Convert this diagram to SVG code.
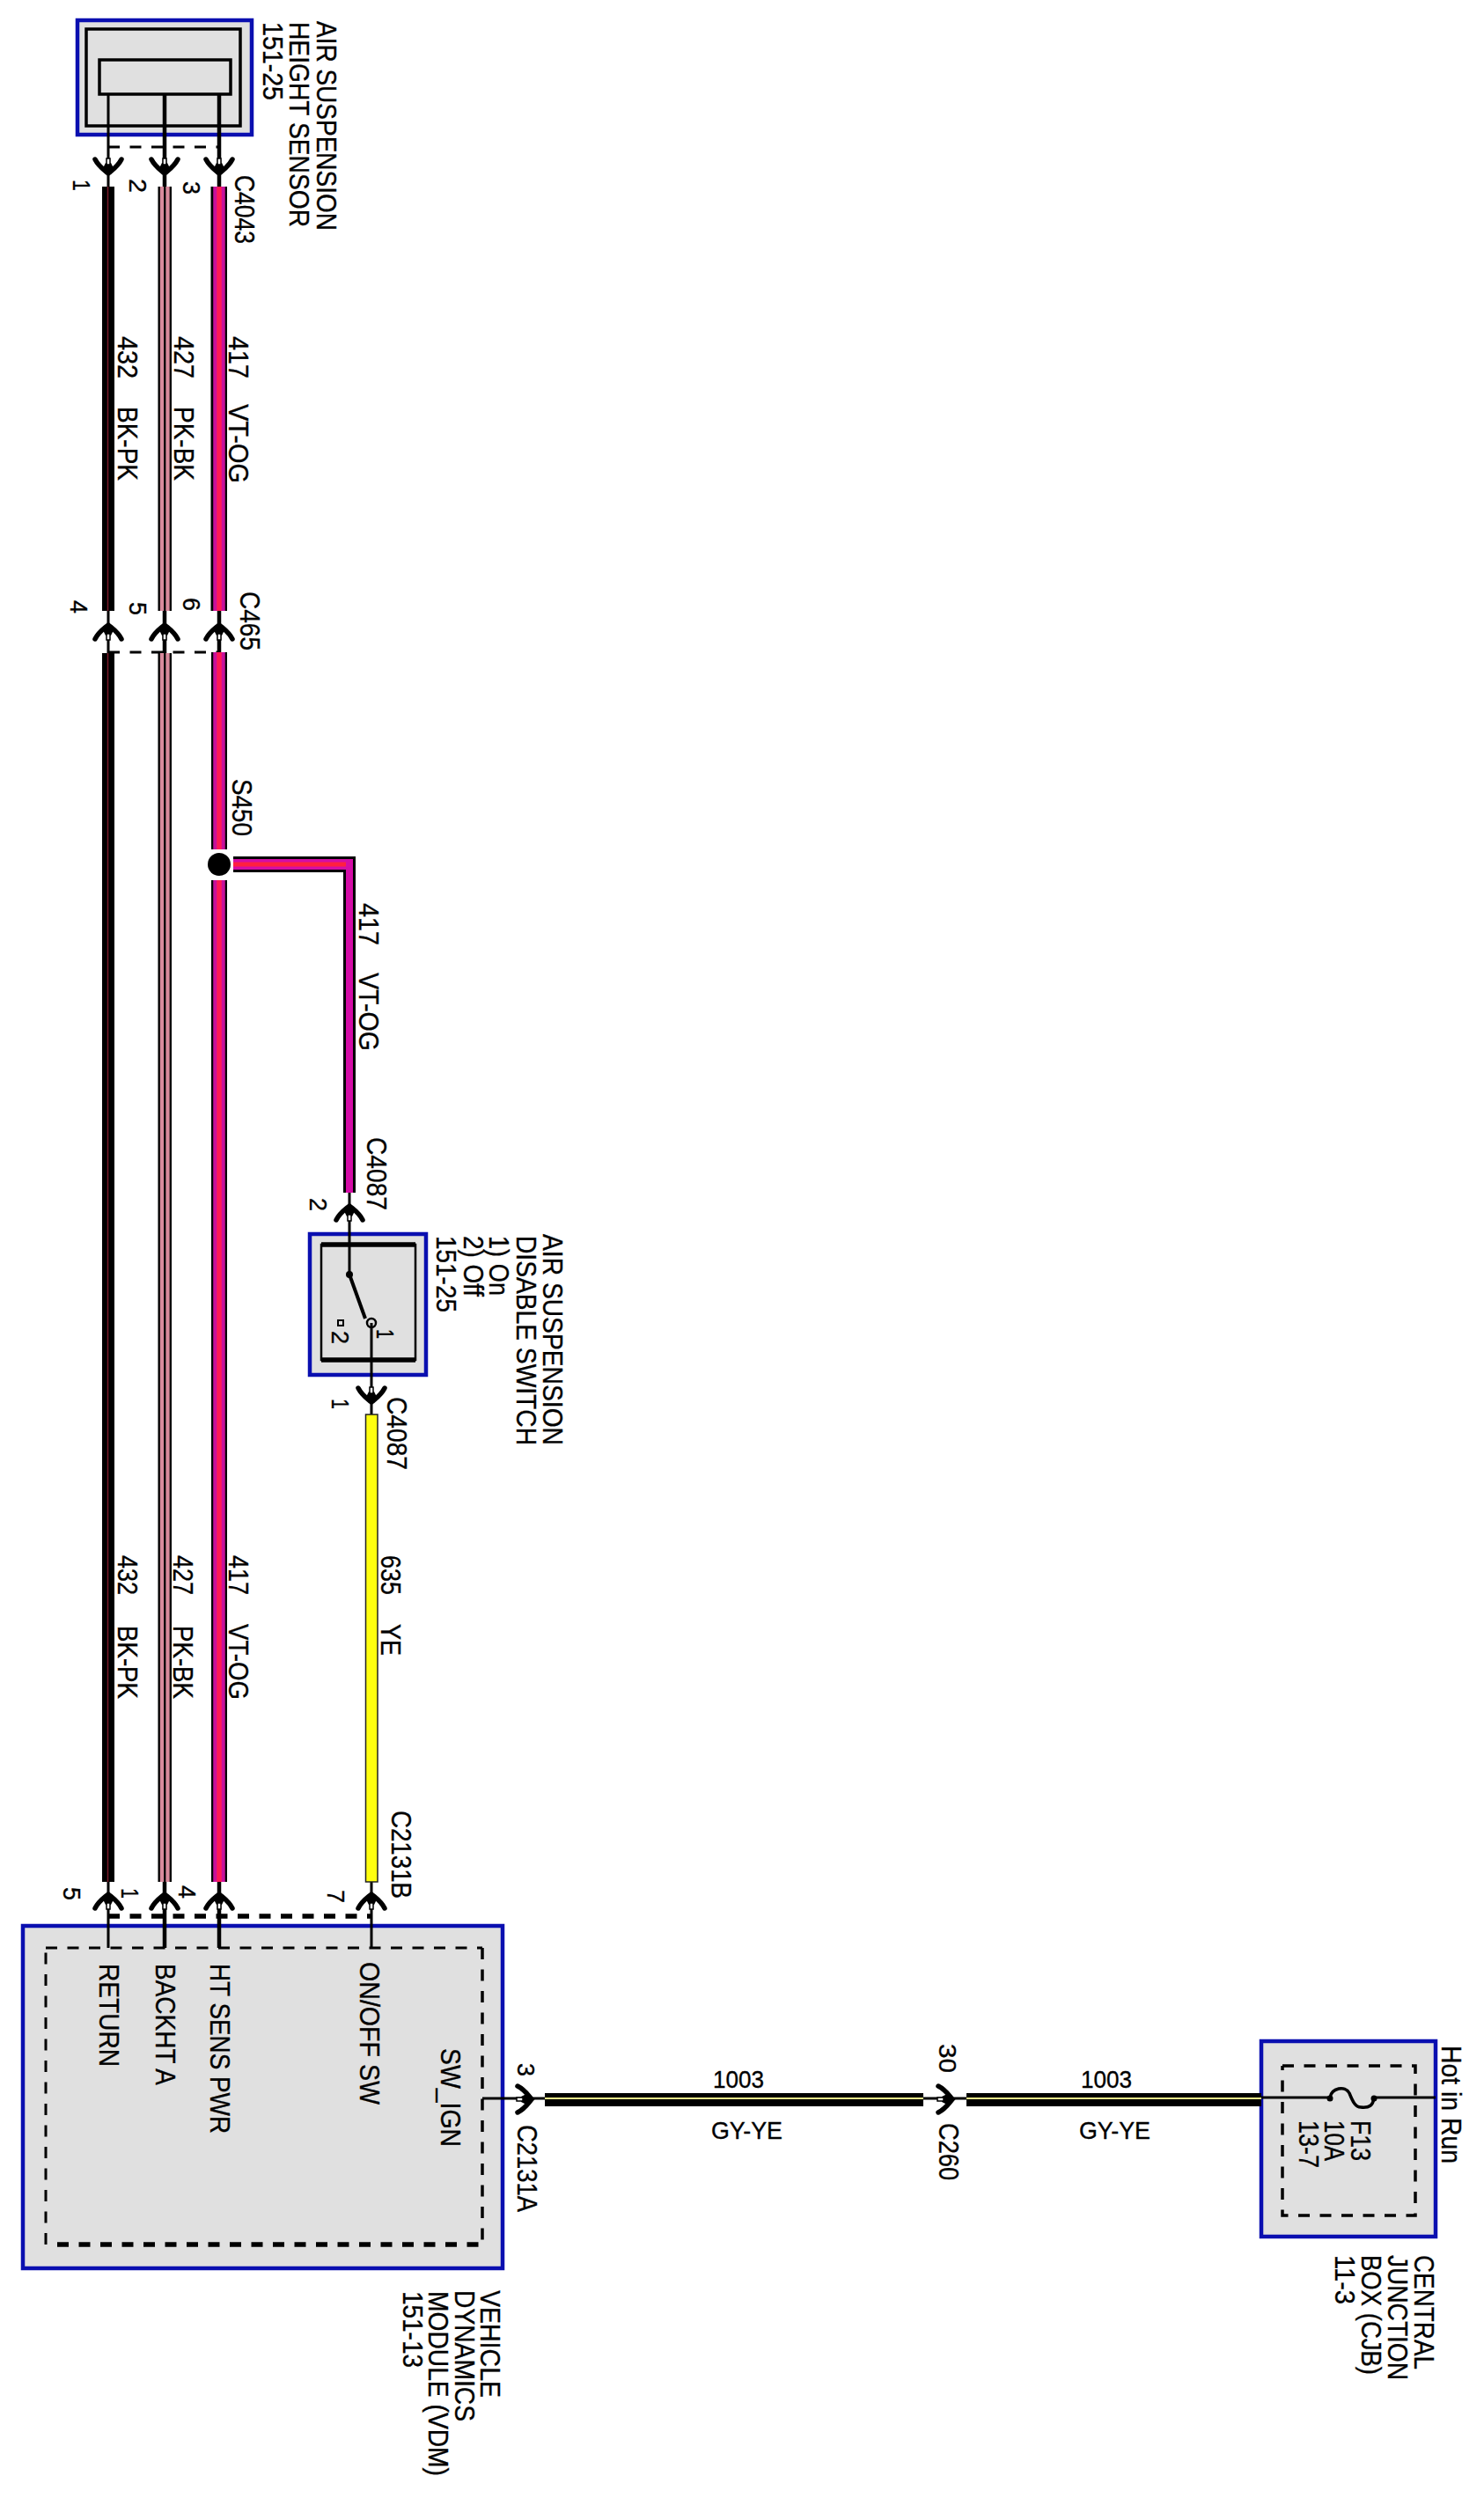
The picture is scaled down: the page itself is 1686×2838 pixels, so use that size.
<svg xmlns="http://www.w3.org/2000/svg" xmlns:xlink="http://www.w3.org/1999/xlink" width="1686" height="2838" viewBox="0 0 1686 2838">
<style>
text{font-family:"Liberation Sans",Arial,sans-serif;fill:#000;stroke:#000;stroke-width:.35}
.l{font-size:32px}
.p{font-size:28px}
.h{font-size:28px}
.box{fill:#e0e0e0;stroke:#0a0fb0;stroke-width:4.5}
.k{fill:none;stroke:#000}
.b{stroke:#000;fill:none}
.dash{stroke:#000;fill:none;stroke-dasharray:13 11.5}
</style>
<defs>
<g id="cu">
<path d="M-15,16 C-11,8 -6,5 0,0 C6,5 11,8 15,16" fill="none" stroke="#000" stroke-width="5.5" stroke-linecap="round"/>
<path d="M0,-1 L-6,6 L-3,12 L3,12 L6,6Z" fill="#000"/>
<rect x="-2" y="10" width="4" height="7" fill="#fff" stroke="#000" stroke-width="1.5"/>
</g>
</defs>
<rect width="1686" height="2838" fill="#fff"/>

<g id="sensor">
<rect class="box" x="88" y="23" width="198" height="130"/>
<rect class="k" stroke-width="3.5" x="98" y="33" width="175" height="110"/>
<rect class="k" stroke-width="3.5" x="113" y="68" width="149" height="39"/>
<text class="l" lengthAdjust="spacingAndGlyphs" textLength="238" transform="translate(360,24) rotate(90)">AIR SUSPENSION</text>
<text class="l" lengthAdjust="spacingAndGlyphs" textLength="233" transform="translate(329,25) rotate(90)">HEIGHT SENSOR</text>
<text class="l" lengthAdjust="spacingAndGlyphs" textLength="89" transform="translate(299,25) rotate(90)">151-25</text>
</g>

<g id="switch">
<rect class="box" x="352" y="1402" width="132" height="160"/>
<rect class="k" stroke-width="2.5" x="365" y="1414" width="107" height="131"/>
<path class="b" stroke-width="5.5" d="M365,1414H472M365,1545H472"/>
<circle cx="397" cy="1448" r="4" fill="#000"/>
<path class="b" stroke-width="4" d="M397,1448L415,1498"/>
<circle cx="422" cy="1503" r="5" fill="#e0e0e0" stroke="#000" stroke-width="2.5"/>
<rect x="384" y="1500" width="6" height="6" fill="none" stroke="#000" stroke-width="2"/>
<text class="p" lengthAdjust="spacingAndGlyphs" textLength="11" transform="translate(428,1510) rotate(90)">1</text>
<text class="p" lengthAdjust="spacingAndGlyphs" textLength="15" transform="translate(377,1512) rotate(90)">2</text>
<text class="l" lengthAdjust="spacingAndGlyphs" textLength="240" transform="translate(617,1402) rotate(90)">AIR SUSPENSION</text>
<text class="l" lengthAdjust="spacingAndGlyphs" textLength="238" transform="translate(587,1404) rotate(90)">DISABLE SWITCH</text>
<text class="l" lengthAdjust="spacingAndGlyphs" textLength="68" transform="translate(556,1404) rotate(90)">1) On</text>
<text class="l" lengthAdjust="spacingAndGlyphs" textLength="69" transform="translate(527,1404) rotate(90)">2) Off</text>
<text class="l" lengthAdjust="spacingAndGlyphs" textLength="87" transform="translate(496,1404) rotate(90)">151-25</text>
</g>

<g id="vdm">
<rect class="box" x="26" y="2188" width="545" height="389"/>
<path class="dash" stroke-width="3" d="M52,2213H548"/>
<path class="dash" stroke-width="3" d="M52,2550V2213"/>
<path class="dash" stroke-width="3.5" d="M548,2213V2550"/>
<path class="dash" stroke-width="5.5" d="M65,2550H548"/>
<text class="l" lengthAdjust="spacingAndGlyphs" textLength="117" transform="translate(113,2231) rotate(90)">RETURN</text>
<text class="l" lengthAdjust="spacingAndGlyphs" textLength="138" transform="translate(177,2231) rotate(90)">BACKHT A</text>
<text class="l" lengthAdjust="spacingAndGlyphs" textLength="193" transform="translate(239,2231) rotate(90)">HT SENS PWR</text>
<text class="l" lengthAdjust="spacingAndGlyphs" textLength="162" transform="translate(409,2229) rotate(90)">ON/OFF SW</text>
<text class="l" lengthAdjust="spacingAndGlyphs" textLength="112" transform="translate(501,2327) rotate(90)">SW_IGN</text>
<text class="l" lengthAdjust="spacingAndGlyphs" textLength="122" transform="translate(546,2602) rotate(90)">VEHICLE</text>
<text class="l" lengthAdjust="spacingAndGlyphs" textLength="149" transform="translate(517,2602) rotate(90)">DYNAMICS</text>
<text class="l" lengthAdjust="spacingAndGlyphs" textLength="210" transform="translate(487,2603) rotate(90)">MODULE (VDM)</text>
<text class="l" lengthAdjust="spacingAndGlyphs" textLength="87" transform="translate(458,2603) rotate(90)">151-13</text>
</g>

<g id="cjb">
<rect class="box" x="1433" y="2319" width="198" height="222"/>
<path class="dash" stroke-width="3.5" d="M1457,2347H1608V2517H1457V2347"/>
<path class="b" stroke-width="3" d="M1433,2383H1511M1561,2383H1631"/>
<path class="b" stroke-width="3.5" d="M1511,2383C1513,2372 1528,2369 1533,2378C1537,2388 1540,2394 1546,2394C1556,2395 1560,2392 1561,2383"/>
<circle cx="1511" cy="2384" r="3.5" fill="#000"/>
<circle cx="1561" cy="2384" r="3.5" fill="#000"/>
<text class="l" lengthAdjust="spacingAndGlyphs" textLength="46" transform="translate(1535,2409) rotate(90)">F13</text>
<text class="l" lengthAdjust="spacingAndGlyphs" textLength="46" transform="translate(1505,2409) rotate(90)">10A</text>
<text class="l" lengthAdjust="spacingAndGlyphs" textLength="54" transform="translate(1476,2409) rotate(90)">13-7</text>
<text class="l" lengthAdjust="spacingAndGlyphs" textLength="134" transform="translate(1638,2324) rotate(90)">Hot in Run</text>
<text class="l" lengthAdjust="spacingAndGlyphs" textLength="130" transform="translate(1607,2562) rotate(90)">CENTRAL</text>
<text class="l" lengthAdjust="spacingAndGlyphs" textLength="142" transform="translate(1577,2562) rotate(90)">JUNCTION</text>
<text class="l" lengthAdjust="spacingAndGlyphs" textLength="136" transform="translate(1547,2562) rotate(90)">BOX (CJB)</text>
<text class="l" lengthAdjust="spacingAndGlyphs" textLength="56" transform="translate(1517,2562) rotate(90)">11-3</text>
</g>

<g id="connectors">
<path class="b" stroke-width="3" d="M123,107V212M123,694V742M123,2138V2213"/>
<path class="b" stroke-width="4.5" d="M187,107V212M187,694V742M187,2138V2213M249,107V212M249,694V742M249,2138V2213"/>
<path class="b" stroke-width="3" d="M397,1355V1448M422,1503V1607M422,2138V2213M548,2384H620M1049,2384H1098"/>
<path class="dash" stroke-width="3" d="M123,167H249"/>
<path class="dash" stroke-width="3" d="M123,741H249"/>
<path class="dash" stroke-width="5.5" d="M123,2177H422"/>

<g>
<rect x="116" y="212" width="14" height="482" fill="#000"/>
<rect x="116" y="742" width="14" height="1396" fill="#000"/>
<path stroke="#7a1a2a" stroke-width="1.5" d="M122.5,212V694M122.5,742V2138"/>
</g>
<g>
<rect x="179.500" y="212" width="15.500" height="482" fill="#000"/>
<rect x="179.500" y="742" width="15.500" height="1396" fill="#000"/>
<path stroke="#d98a9c" stroke-width="4.300" d="M184,212V694M190.500,212V694M184,742V2138M190.500,742V2138"/>
</g>
<g>
<rect x="239.500" y="212" width="18.500" height="482" fill="#000"/>
<rect x="240" y="741" width="18" height="224" fill="#000"/>
<rect x="240" y="1000" width="18" height="1138" fill="#000"/>
<path stroke="#c8109c" stroke-width="13.500" fill="none" d="M249,212V694M249,741V965M249,1000V2138"/>
<path stroke="#ff1a55" stroke-width="5.500" fill="none" d="M249,212V694M249,741V965M249,1000V2138"/>
</g>
<circle cx="249" cy="982" r="13" fill="#000"/>
<path fill="#000" d="M265,973H404V1355H390V991H265Z"/>
<path fill="#d40ca6" d="M265,976H401V1355H393V988H265Z"/>
<rect x="265" y="979.500" width="128" height="5" fill="#ff2040"/>
<rect x="415.500" y="1607" width="13.500" height="531" fill="#ffff10" stroke="#222" stroke-width="1.500"/>
<g>
<rect x="619" y="2378" width="430" height="15" fill="#000"/>
<rect x="1098" y="2378" width="335" height="15" fill="#000"/>
<path stroke="#f4f08a" stroke-width="2" d="M619,2384H1049M1098,2384H1433"/>
</g>
<use xlink:href="#cu" href="#cu" transform="translate(123,197) rotate(180)"/>
<use xlink:href="#cu" href="#cu" transform="translate(187,197) rotate(180)"/>
<use xlink:href="#cu" href="#cu" transform="translate(249,197) rotate(180)"/>
<use xlink:href="#cu" href="#cu" transform="translate(123,710)"/>
<use xlink:href="#cu" href="#cu" transform="translate(187,710)"/>
<use xlink:href="#cu" href="#cu" transform="translate(249,710)"/>
<use xlink:href="#cu" href="#cu" transform="translate(397,1370)"/>
<use xlink:href="#cu" href="#cu" transform="translate(422,1593) rotate(180)"/>
<use xlink:href="#cu" href="#cu" transform="translate(123,2152)"/>
<use xlink:href="#cu" href="#cu" transform="translate(187,2152)"/>
<use xlink:href="#cu" href="#cu" transform="translate(249,2152)"/>
<use xlink:href="#cu" href="#cu" transform="translate(422,2152)"/>
<use xlink:href="#cu" href="#cu" transform="translate(604,2385) rotate(90)"/>
<use xlink:href="#cu" href="#cu" transform="translate(1082,2385) rotate(90)"/>
</g>

<g id="labels">
<text class="p" lengthAdjust="spacingAndGlyphs" textLength="13" transform="translate(83,204) rotate(90)">1</text>
<text class="p" lengthAdjust="spacingAndGlyphs" textLength="16" transform="translate(147,203) rotate(90)">2</text>
<text class="p" lengthAdjust="spacingAndGlyphs" textLength="15" transform="translate(208,206) rotate(90)">3</text>
<text class="l" lengthAdjust="spacingAndGlyphs" textLength="78" transform="translate(267,199) rotate(90)">C4043</text>
<text class="p" lengthAdjust="spacingAndGlyphs" textLength="15" transform="translate(80,682) rotate(90)">4</text>
<text class="p" lengthAdjust="spacingAndGlyphs" textLength="15" transform="translate(147,684) rotate(90)">5</text>
<text class="p" lengthAdjust="spacingAndGlyphs" textLength="15" transform="translate(208,679) rotate(90)">6</text>
<text class="l" lengthAdjust="spacingAndGlyphs" textLength="67" transform="translate(273,672) rotate(90)">C465</text>
<text class="l" lengthAdjust="spacingAndGlyphs" textLength="65" transform="translate(264,885) rotate(90)">S450</text>

<text class="l" lengthAdjust="spacingAndGlyphs" textLength="48" transform="translate(134,382) rotate(90)">432</text>
<text class="l" lengthAdjust="spacingAndGlyphs" textLength="84" transform="translate(134,462) rotate(90)">BK-PK</text>
<text class="l" lengthAdjust="spacingAndGlyphs" textLength="48" transform="translate(198,382) rotate(90)">427</text>
<text class="l" lengthAdjust="spacingAndGlyphs" textLength="84" transform="translate(198,462) rotate(90)">PK-BK</text>
<text class="l" lengthAdjust="spacingAndGlyphs" textLength="48" transform="translate(260,382) rotate(90)">417</text>
<text class="l" lengthAdjust="spacingAndGlyphs" textLength="90" transform="translate(260,459) rotate(90)">VT-OG</text>

<text class="l" lengthAdjust="spacingAndGlyphs" textLength="48" transform="translate(408,1026) rotate(90)">417</text>
<text class="l" lengthAdjust="spacingAndGlyphs" textLength="89" transform="translate(408,1105) rotate(90)">VT-OG</text>

<text class="p" lengthAdjust="spacingAndGlyphs" textLength="15" transform="translate(352,1361) rotate(90)">2</text>
<text class="l" lengthAdjust="spacingAndGlyphs" textLength="83" transform="translate(417,1292) rotate(90)">C4087</text>
<text class="p" lengthAdjust="spacingAndGlyphs" textLength="12" transform="translate(377,1589) rotate(90)">1</text>
<text class="l" lengthAdjust="spacingAndGlyphs" textLength="83" transform="translate(440,1587) rotate(90)">C4087</text>

<text class="l" lengthAdjust="spacingAndGlyphs" textLength="45" transform="translate(134,1767) rotate(90)">432</text>
<text class="l" lengthAdjust="spacingAndGlyphs" textLength="83" transform="translate(134,1847) rotate(90)">BK-PK</text>
<text class="l" lengthAdjust="spacingAndGlyphs" textLength="45" transform="translate(197,1767) rotate(90)">427</text>
<text class="l" lengthAdjust="spacingAndGlyphs" textLength="83" transform="translate(197,1847) rotate(90)">PK-BK</text>
<text class="l" lengthAdjust="spacingAndGlyphs" textLength="45" transform="translate(260,1767) rotate(90)">417</text>
<text class="l" lengthAdjust="spacingAndGlyphs" textLength="86" transform="translate(260,1845) rotate(90)">VT-OG</text>
<text class="l" lengthAdjust="spacingAndGlyphs" textLength="45" transform="translate(433,1767) rotate(90)">635</text>
<text class="l" lengthAdjust="spacingAndGlyphs" textLength="36" transform="translate(433,1845) rotate(90)">YE</text>

<text class="l" lengthAdjust="spacingAndGlyphs" textLength="100" transform="translate(445,2057) rotate(90)">C2131B</text>
<text class="p" lengthAdjust="spacingAndGlyphs" textLength="15" transform="translate(72,2144) rotate(90)">5</text>
<text class="p" lengthAdjust="spacingAndGlyphs" textLength="12" transform="translate(138,2145) rotate(90)">1</text>
<text class="p" lengthAdjust="spacingAndGlyphs" textLength="15" transform="translate(203,2142) rotate(90)">4</text>
<text class="p" lengthAdjust="spacingAndGlyphs" textLength="15" transform="translate(372,2147) rotate(90)">7</text>

<text class="p" lengthAdjust="spacingAndGlyphs" textLength="15" transform="translate(588,2344) rotate(90)">3</text>
<text class="l" lengthAdjust="spacingAndGlyphs" textLength="99" transform="translate(588,2414) rotate(90)">C2131A</text>
<text class="p" lengthAdjust="spacingAndGlyphs" textLength="33" transform="translate(1067,2322) rotate(90)">30</text>
<text class="l" lengthAdjust="spacingAndGlyphs" textLength="65" transform="translate(1067,2412) rotate(90)">C260</text>

<text class="h" lengthAdjust="spacingAndGlyphs" textLength="58" x="810" y="2372">1003</text>
<text class="h" lengthAdjust="spacingAndGlyphs" textLength="81" x="808" y="2430">GY-YE</text>
<text class="h" lengthAdjust="spacingAndGlyphs" textLength="58" x="1228" y="2372">1003</text>
<text class="h" lengthAdjust="spacingAndGlyphs" textLength="81" x="1226" y="2430">GY-YE</text>
</g>
</svg>
